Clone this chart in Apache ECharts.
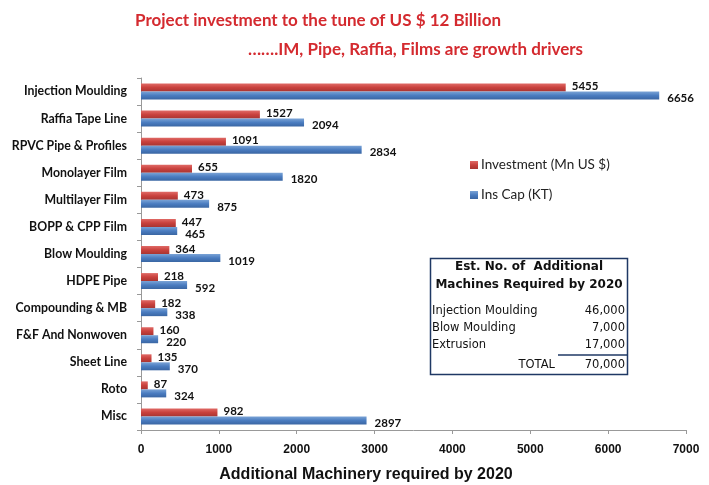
<!DOCTYPE html>
<html><head><meta charset="utf-8">
<script src="https://cdn.jsdelivr.net/npm/echarts@6/dist/echarts.min.js"></script>
<style>html,body{margin:0;padding:0;background:#fff}#c{width:709px;height:485px}</style>
</head><body><div id="c"></div>
<script>
const categories = ["Injection Moulding","Raffia Tape Line","RPVC Pipe & Profiles","Monolayer Film","Multilayer Film","BOPP & CPP Film","Blow Moulding","HDPE Pipe","Compounding & MB","F&F And Nonwoven","Sheet Line","Roto","Misc"];
const investment = [5455,1527,1091,655,473,447,364,218,182,160,135,87,982];
const insCap = [6656,2094,2834,1820,875,465,1019,592,338,220,370,324,2897];
const xTicks = [0,1000,2000,3000,4000,5000,6000,7000];
const tableRows = [["Injection Moulding","46,000"],["Blow Moulding","7,000"],["Extrusion","17,000"]];
const tableTotal = ["TOTAL","70,000"];

const chart = echarts.init(document.getElementById('c'));
const redGrad = new echarts.graphic.LinearGradient(0,0,0,1,[{offset:0,color:'#e06a66'},{offset:0.5,color:'#c9413d'},{offset:1,color:'#a83532'}]);
const blueGrad = new echarts.graphic.LinearGradient(0,0,0,1,[{offset:0,color:'#7aa3d6'},{offset:0.5,color:'#4a7cc0'},{offset:1,color:'#3a66a3'}]);
const tfont = 'DejaVu Sans';
const graphics = [
  {type:'rect', shape:{x:430.5,y:258.5,width:197,height:116}, style:{fill:'#fff',stroke:'#1f3864',lineWidth:1.5}, z:10},
  {type:'text', style:{x:529,y:267,text:'Est. No. of  Additional',font:'bold 12px '+tfont,fill:'#111',textAlign:'center',textVerticalAlign:'middle'}, z:11},
  {type:'text', style:{x:529,y:285,text:'Machines Required by 2020',font:'bold 12px '+tfont,fill:'#111',textAlign:'center',textVerticalAlign:'middle'}, z:11},
  {type:'line', shape:{x1:558,y1:355,x2:627,y2:355}, style:{stroke:'#1f3864',lineWidth:1.5}, z:11},
  {type:'text', style:{x:555,y:365,text:tableTotal[0],font:'11.5px '+tfont,fill:'#111',textAlign:'right',textVerticalAlign:'middle'}, z:11},
  {type:'text', style:{x:625,y:365,text:tableTotal[1],font:'11.5px '+tfont,fill:'#111',textAlign:'right',textVerticalAlign:'middle'}, z:11},
  {type:'text', style:{x:366,y:475,text:'Additional Machinery required by 2020',font:'bold 16px Liberation Sans',fill:'#111',textAlign:'center',textVerticalAlign:'middle'}, z:11}
];
tableRows.forEach((r,i)=>{
  const y = 311 + i*17;
  graphics.push({type:'text', style:{x:432,y:y,text:r[0],font:'11.5px '+tfont,fill:'#111',textAlign:'left',textVerticalAlign:'middle'}, z:11});
  graphics.push({type:'text', style:{x:625,y:y,text:r[1],font:'11.5px '+tfont,fill:'#111',textAlign:'right',textVerticalAlign:'middle'}, z:11});
});

chart.setOption({
  animation:false,
  backgroundColor:'#fff',
  title:[
    {text:'Project investment to the tune of US $ 12 Billion', left:130, top:7, textStyle:{fontFamily:'Lato',fontWeight:'bold',fontSize:17,color:'#d42a2f'}},
    {text:'…….IM, Pipe, Raffia, Films are growth drivers', left:243, top:36, textStyle:{fontFamily:'Lato',fontWeight:'bold',fontSize:17,color:'#d42a2f'}}
  ],
  legend:{orient:'vertical', left:465, top:153, itemGap:16, itemWidth:8, itemHeight:8, icon:'rect',
    textStyle:{fontFamily:'Lato',fontSize:13.5,color:'#222',padding:[0,0,0,-2]},
    data:['Investment (Mn US $)','Ins Cap (KT)']},
  grid:{left:141, right:23, top:78, bottom:55},
  xAxis:{type:'value', min:0, max:7000, interval:1000,
    axisLine:{show:true,lineStyle:{color:'#999'}}, axisTick:{show:true,length:4,lineStyle:{color:'#999'}},
    splitLine:{show:false},
    axisLabel:{fontFamily:'Liberation Sans',fontWeight:'bold',fontSize:12,color:'#111',margin:14,
      formatter:v=>xTicks.includes(v)?String(v):''}},
  yAxis:{type:'category', data:categories, inverse:true,
    axisLine:{show:true,lineStyle:{color:'#999'}}, axisTick:{show:true,length:4,lineStyle:{color:'#999'}},
    axisLabel:{fontFamily:'Lato',fontWeight:'bold',fontSize:12.3,color:'#111',margin:14}},
  series:[
    {name:'Investment (Mn US $)', type:'bar', data:investment, barWidth:8, barGap:'0%',
      itemStyle:{color:redGrad}, 
      label:{show:true,position:'right',distance:6,offset:[0,-1],fontFamily:'Lato',fontWeight:'bold',fontSize:11.5,color:'#111'}},
    {name:'Ins Cap (KT)', type:'bar', data:insCap, barWidth:8, barGap:'0%',
      itemStyle:{color:blueGrad},
      label:{show:true,position:'right',distance:8,offset:[0,3],fontFamily:'Lato',fontWeight:'bold',fontSize:11.5,color:'#111'}}
  ],
  graphic:graphics
});
</script></body></html>
